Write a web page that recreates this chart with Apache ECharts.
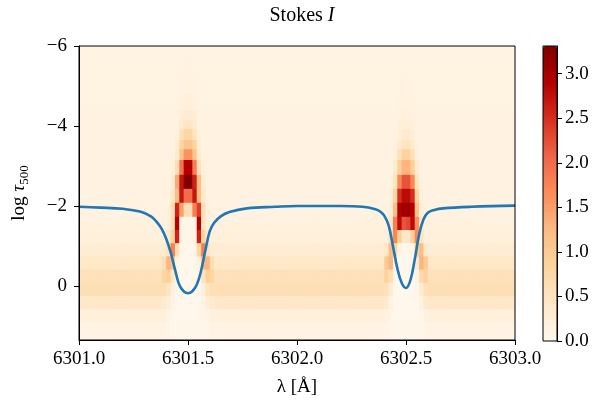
<!DOCTYPE html>
<html><head><meta charset="utf-8">
<script src="https://cdn.jsdelivr.net/npm/echarts@6/dist/echarts.min.js"></script>
<style>html,body{margin:0;padding:0;background:#fff}#c{width:613px;height:409px}</style>
</head><body><div id="c"></div>
<script>
// ---- wavelength grid of the heat map (column centres are lambdaStart + step*(i+0.5)) ----
const lambdaStart = 6301.0;
const lambdaStep = 0.02;
const nLambda = 100;
// ---- log tau row edges ----
const logTauEdges = [-6.0,-5.6,-5.2,-4.8,-4.4,-4.15,-3.92,-3.65,-3.42,-3.15,-2.78,-2.43,-2.08,-1.73,-1.40,-1.07,-0.74,-0.41,-0.08,0.25,0.58,0.91,1.35];
// ---- Stokes I response far from the lines, one value per row ----
const backgroundI = [0.12,0.12,0.12,0.12,0.13,0.13,0.13,0.13,0.13,0.13,0.14,0.14,0.14,0.16,0.2,0.28,0.42,0.55,0.6,0.4,0.2,0.1];
// ---- values around line 1 (6301.5) ----
const line1Lambda = [6301.39,6301.41,6301.43,6301.45,6301.47,6301.49,6301.51,6301.53,6301.55,6301.57,6301.59,6301.61];
const line1I = [
  [0.12,0.12,0.12,0.12,0.12,0.12,0.12,0.12,0.12,0.12,0.12,0.12],
  [0.12,0.12,0.12,0.12,0.12,0.13,0.13,0.12,0.12,0.12,0.12,0.12],
  [0.12,0.12,0.12,0.12,0.13,0.15,0.15,0.13,0.12,0.12,0.12,0.12],
  [0.12,0.12,0.12,0.12,0.16,0.2,0.2,0.16,0.12,0.12,0.12,0.12],
  [0.13,0.13,0.13,0.14,0.25,0.3,0.3,0.25,0.14,0.13,0.13,0.13],
  [0.13,0.13,0.13,0.15,0.35,0.45,0.45,0.35,0.15,0.13,0.13,0.13],
  [0.13,0.13,0.13,0.18,0.55,0.75,0.75,0.5,0.18,0.13,0.13,0.13],
  [0.13,0.13,0.14,0.25,0.8,1.1,1.1,0.8,0.25,0.14,0.13,0.13],
  [0.13,0.13,0.15,0.35,1.1,1.6,1.6,1.1,0.35,0.15,0.13,0.13],
  [0.13,0.13,0.2,0.6,1.9,2.9,2.9,1.8,0.55,0.2,0.13,0.13],
  [0.14,0.15,0.3,1.4,2.7,3.3,3.3,2.6,1.2,0.3,0.15,0.14],
  [0.14,0.15,0.4,1.2,2.7,2.0,2.0,2.7,1.2,0.4,0.15,0.14],
  [0.14,0.16,0.6,2.6,1.5,0.6,0.6,1.8,2.4,0.6,0.16,0.14],
  [0.16,0.2,0.6,2.9,0.1,0.05,0.05,0.1,2.9,0.5,0.2,0.16],
  [0.2,0.3,0.8,2.6,0.1,0.02,0.02,0.1,2.6,0.8,0.3,0.2],
  [0.3,0.5,1.8,0.6,0.05,0,0,0.05,0.8,1.8,0.5,0.3],
  [0.6,1.3,1.1,0.15,0,0,0,0,0.2,1.2,1.3,0.6],
  [0.8,0.9,0.4,0.05,0,0,0,0,0.05,0.5,0.9,0.8],
  [0.6,0.5,0.2,0.02,0,0,0,0,0.02,0.2,0.5,0.6],
  [0.35,0.25,0.1,0,0,0,0,0,0,0.1,0.25,0.35],
  [0.18,0.12,0.05,0,0,0,0,0,0,0.05,0.1,0.18],
  [0.1,0.06,0.02,0.02,0.02,0.02,0.02,0.02,0.02,0.02,0.05,0.1]
];
// ---- values around line 2 (6302.5) ----
const line2Lambda = [6302.41,6302.43,6302.45,6302.47,6302.49,6302.51,6302.53,6302.55,6302.57,6302.59];
const line2I = [
  [0.12,0.12,0.12,0.12,0.12,0.12,0.12,0.12,0.12,0.12],
  [0.12,0.12,0.12,0.12,0.12,0.12,0.12,0.12,0.12,0.12],
  [0.12,0.12,0.12,0.12,0.13,0.13,0.12,0.12,0.12,0.12],
  [0.12,0.12,0.12,0.13,0.15,0.15,0.13,0.12,0.12,0.12],
  [0.13,0.13,0.13,0.14,0.18,0.18,0.14,0.13,0.13,0.13],
  [0.13,0.13,0.13,0.18,0.22,0.22,0.18,0.13,0.13,0.13],
  [0.13,0.13,0.14,0.25,0.35,0.35,0.25,0.14,0.13,0.13],
  [0.13,0.13,0.16,0.35,0.5,0.5,0.35,0.16,0.13,0.13],
  [0.13,0.13,0.2,0.55,0.85,0.85,0.55,0.2,0.13,0.13],
  [0.13,0.14,0.3,0.9,1.3,1.3,0.9,0.3,0.14,0.13],
  [0.14,0.15,0.5,1.7,2.2,2.2,1.7,0.5,0.15,0.14],
  [0.14,0.18,0.8,2.5,2.8,2.8,2.5,0.8,0.18,0.14],
  [0.14,0.25,1.2,2.9,3.05,3.05,2.9,1.1,0.25,0.14],
  [0.16,0.4,1.8,2.8,2.2,2.3,2.8,1.6,0.4,0.16],
  [0.2,0.6,1.7,0.9,0.4,0.4,0.9,1.7,0.5,0.2],
  [0.4,1.2,0.8,0.1,0.02,0.02,0.1,0.9,1.2,0.4],
  [1.0,1.3,0.2,0,0,0,0.05,0.3,1.3,1.0],
  [0.85,0.6,0.05,0,0,0,0,0.1,0.7,0.85],
  [0.55,0.3,0.02,0,0,0,0,0.03,0.3,0.55],
  [0.35,0.15,0,0,0,0,0,0,0.15,0.35],
  [0.15,0.05,0,0,0,0,0,0,0.05,0.15],
  [0.06,0.03,0.02,0.02,0.02,0.02,0.02,0.02,0.03,0.06]
];
// ---- overplotted profile (blue curve) ----
const profileLambda = [6301.00,6301.10,6301.20,6301.28,6301.33,6301.36,6301.38,6301.40,6301.42,6301.44,6301.46,6301.48,6301.50,6301.52,6301.54,6301.56,6301.58,6301.60,6301.62,6301.65,6301.69,6301.77,6301.90,6302.00,6302.20,6302.30,6302.36,6302.38,6302.40,6302.42,6302.44,6302.46,6302.48,6302.50,6302.52,6302.54,6302.56,6302.58,6302.60,6302.63,6302.67,6302.80,6303.00];
const profileLogTau = [-1.98,-1.96,-1.93,-1.86,-1.74,-1.58,-1.42,-1.18,-0.85,-0.42,-0.03,0.13,0.18,0.13,-0.03,-0.38,-0.9,-1.37,-1.58,-1.74,-1.85,-1.94,-1.98,-2.0,-2.0,-1.98,-1.92,-1.87,-1.76,-1.52,-1.0,-0.45,-0.08,0.05,-0.14,-0.66,-1.28,-1.66,-1.83,-1.9,-1.94,-1.98,-2.01];
// ---- axis ticks ----
const xTicks = [6301.0,6301.5,6302.0,6302.5,6303.0];
const yTicks = [-6,-4,-2,0];
const cbarTicks = [0,0.5,1.0,1.5,2.0,2.5,3.0];
const cbarMax = 3.31;

const orrd = ['#fff7ec','#fee8c8','#fdd49e','#fdbb84','#fc8d59','#ef6548','#d7301f','#b30000','#7f0000'];
const FONT = 'Liberation Serif';

const cells = [];
for (let c = 0; c < nLambda; c++) {
  const lam = lambdaStart + lambdaStep * (c + 0.5);
  const key = lam.toFixed(2);
  const i1 = line1Lambda.findIndex(v => v.toFixed(2) === key);
  const i2 = line2Lambda.findIndex(v => v.toFixed(2) === key);
  for (let r = 0; r < backgroundI.length; r++) {
    const v = i1 >= 0 ? line1I[r][i1] : (i2 >= 0 ? line2I[r][i2] : backgroundI[r]);
    cells.push([lam - lambdaStep / 2, lam + lambdaStep / 2, logTauEdges[r], logTauEdges[r + 1], v]);
  }
}
const profile = profileLambda.map((x, i) => [x, profileLogTau[i]]);

const minus = v => (v < 0 ? '\u2212' + Math.abs(v) : String(v));

const chart = echarts.init(document.getElementById('c'), null, { renderer: 'canvas' });
chart.setOption({
  animation: false,
  backgroundColor: '#fff',
  title: {
    text: '{r|Stokes }{i|I}', left: 297, top: 1, textAlign: 'center',
    textStyle: { fontWeight: 'normal', rich: {
      r: { fontFamily: FONT, fontSize: 20, fontWeight: 'normal', color: '#000' },
      i: { fontFamily: FONT, fontSize: 20, fontWeight: 'normal', fontStyle: 'italic', color: '#000' } } }
  },
  grid: [
    { left: 79, top: 46, width: 436, height: 294, show: true, z: 10, borderColor: '#000', borderWidth: 1, backgroundColor: 'rgba(0,0,0,0)' },
    { left: 543, top: 46, width: 14, height: 295, show: true, z: 10, borderColor: '#000', borderWidth: 1, backgroundColor: 'rgba(0,0,0,0)' }
  ],
  visualMap: {
    type: 'continuous', min: 0, max: cbarMax, dimension: 4, seriesIndex: 0,
    calculable: false, orient: 'vertical', left: 543, top: 46, itemWidth: 14, itemHeight: 295,
    padding: 0, text: null, inRange: { color: orrd }, hoverLink: false
  },
  xAxis: [
    {
      type: 'value', gridIndex: 0, min: 6301, max: 6303, interval: 0.5, position: 'bottom', z: 10,
      axisLine: { show: true, onZero: false, lineStyle: { color: '#000', width: 1 } },
      axisTick: { show: true, inside: false, length: 5, lineStyle: { color: '#000' }, customValues: xTicks },
      axisLabel: { color: '#000', fontFamily: FONT, fontSize: 19, margin: 10, formatter: v => v.toFixed(1), customValues: xTicks },
      splitLine: { show: false },
      name: '{g|λ} [Å]', nameLocation: 'middle', nameGap: 38,
      nameTextStyle: { fontFamily: FONT, fontSize: 19, color: '#000', rich: { g: { fontFamily: FONT, fontSize: 19, color: '#000' } } }
    },
    { type: 'value', gridIndex: 1, min: 0, max: 1, show: false }
  ],
  yAxis: [
    {
      type: 'value', gridIndex: 0, min: -6, max: 1.35, interval: 2, inverse: true, position: 'left', z: 10,
      axisLine: { show: true, onZero: false, lineStyle: { color: '#000', width: 1 } },
      axisTick: { show: true, inside: false, length: 5, lineStyle: { color: '#000' }, customValues: yTicks },
      axisLabel: { color: '#000', fontFamily: FONT, fontSize: 19, margin: 12, formatter: minus, customValues: yTicks },
      splitLine: { show: false },
      name: '{a|log }{g|τ}{s|500}', nameLocation: 'middle', nameGap: 48,
      nameTextStyle: { rich: {
        a: { fontFamily: FONT, fontSize: 19, color: '#000', lineHeight: 24, verticalAlign: 'middle' },
        g: { fontFamily: FONT, fontSize: 19, color: '#000', fontStyle: 'italic', lineHeight: 24, verticalAlign: 'middle' },
        s: { fontFamily: FONT, fontSize: 13, color: '#000', lineHeight: 13, verticalAlign: 'bottom' }
      } }
    },
    {
      type: 'value', gridIndex: 1, min: 0, max: cbarMax, interval: 0.5, position: 'right', z: 10,
      axisLine: { show: true, onZero: false, lineStyle: { color: '#000', width: 1 } },
      axisTick: { show: true, inside: false, length: 5, lineStyle: { color: '#000' }, customValues: cbarTicks },
      axisLabel: { color: '#000', fontFamily: FONT, fontSize: 19, margin: 8, formatter: v => v.toFixed(1), customValues: cbarTicks },
      splitLine: { show: false }
    }
  ],
  series: [
    {
      type: 'custom', xAxisIndex: 0, yAxisIndex: 0, data: cells, clip: true,
      encode: { x: [0, 1], y: [2, 3] },
      renderItem: function (params, api) {
        const p0 = api.coord([api.value(0), api.value(2)]);
        const p1 = api.coord([api.value(1), api.value(3)]);
        return {
          type: 'rect',
          shape: { x: Math.min(p0[0], p1[0]), y: Math.min(p0[1], p1[1]), width: Math.abs(p1[0] - p0[0]) + 0.6, height: Math.abs(p1[1] - p0[1]) + 0.6 },
          style: { fill: api.visual('color') }
        };
      }
    },
    {
      type: 'line', xAxisIndex: 0, yAxisIndex: 0, data: profile, showSymbol: false, smooth: 0.4,
      lineStyle: { color: '#1f77b4', width: 2.6 }, z: 5
    }
  ]
});
</script></body></html>
